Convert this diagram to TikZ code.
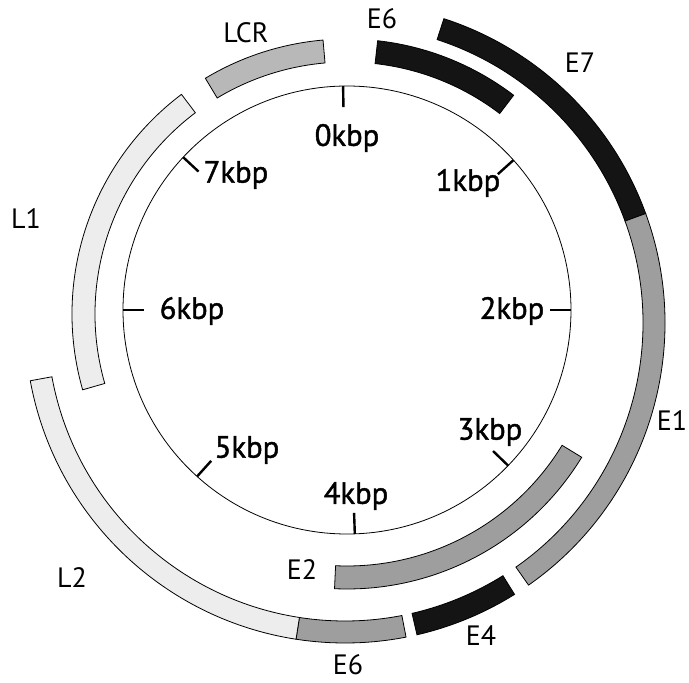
\documentclass[tikz,border=0pt]{standalone}
\usepackage{fontspec}
\setsansfont{PT Sans}
\newfontfamily\kbfont{PT Sans}[FakeBold=1.4]
\usepackage{tikz}
\tikzset{
  % Style for the genome backbone
  genome/.style={draw, line width=0.6pt},
  % Style for the kbp marks
  kbtick/.style={line width=1.8pt},
  % Styles for the gene segments
  darkseg/.style={draw, line width=0.6pt, fill=black!92},
  midseg/.style={draw, line width=0.6pt, fill=black!38},
  paleseg/.style={draw, line width=0.6pt, fill=black!28},
  lightseg/.style={draw, line width=0.6pt, fill=black!7},
  % Styles for the labels
  kblabel/.style={font=\kbfont\fontsize{23}{26}\selectfont},
  genelabel/.style={font=\sffamily\fontsize{21}{24}\selectfont, inner sep=1pt}
}
% annular segment: style, start angle, end angle, inner radius, outer radius
\newcommand{\genseg}[5]{%
  \draw[#1] (#2:#4) arc[start angle=#2, end angle=#3, radius=#4]
    -- (#3:#5) arc[start angle=#3, end angle=#2, radius=#5] -- cycle;
}

\begin{document}
\begin{tikzpicture}[x=0.75pt, y=0.75pt]
    \useasboundingbox (-347,-372) rectangle (342,310);

    % backbone with kbp marks
    \draw[genome] (0,0) circle[radius=224];
    \foreach \k/\a/\lx/\ly in {0/91/0/172, 1/42/121/127, 2/0/165/-1, 3/-44/143/-122,
                               4/-88/9/-186, 5/-132/-100/-140, 6/180/-155/-1, 7/137/-111/135} {
        \draw[kbtick] (\a:224) -- (\a:203);
        \node[kblabel] (k\k) at (\lx,\ly) {\k kbp};
    }

    % inner ring of segments
    \begin{scope}[shift={(0,-4)}]
        \genseg{paleseg}{95}{121}{252}{275}
        \genseg{darkseg}{52.7}{83.6}{252}{275}
        \genseg{lightseg}{127}{196}{252}{275}
        \genseg{midseg}{-92.6}{-31.4}{252}{275}
    \end{scope}

    % outer ring of segments
    \begin{scope}[shift={(-2,-13)}]
        \genseg{darkseg}{20}{72}{298}{320}
        \genseg{midseg}{-55}{20}{298}{320}
        \genseg{darkseg}{-77}{-58}{298}{320}
        \genseg{midseg}{-98.8}{-79}{298}{320}
        \genseg{lightseg}{190.4}{261.2}{298}{320}
    \end{scope}

    \node[genelabel] (lcr) at (-101,277) {LCR};
    \node[genelabel] (e6a) at (35,291) {E6};
    \node[genelabel] (e7) at (233,247) {E7};
    \node[genelabel] (l1) at (-321,91) {L1};
    \node[genelabel] (e1) at (325,-111) {E1};
    \node[genelabel] (l2) at (-275,-268) {L2};
    \node[genelabel] (e2) at (-45,-260) {E2};
    \node[genelabel] (e4) at (134,-326) {E4};
    \node[genelabel] (e6b) at (1,-355) {E6};
\end{tikzpicture}
\end{document}
